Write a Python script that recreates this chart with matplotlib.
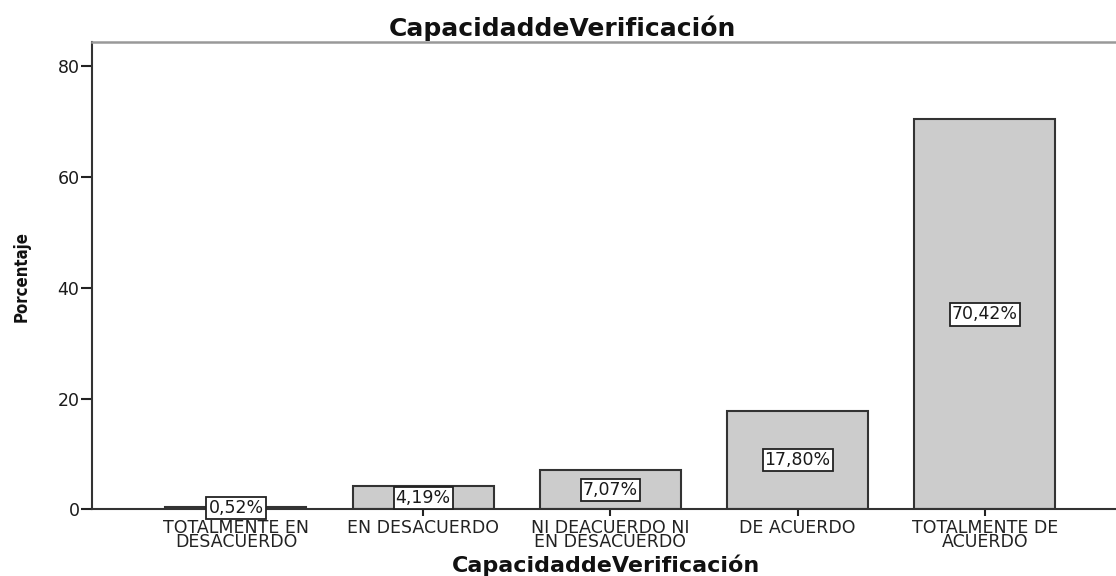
import numpy as np
import matplotlib.pyplot as plt

categorias = ['TOTALMENTE EN\nDESACUERDO', 'EN DESACUERDO', 'NI DEACUERDO NI\nEN DESACUERDO',
              'DE ACUERDO', 'TOTALMENTE DE\nACUERDO']
porcentajes = [0.52, 4.19, 7.07, 17.80, 70.42]
etiquetas = ['0,52%', '4,19%', '7,07%', '17,80%', '70,42%']
y_ticks = [0, 20, 40, 60, 80]

plt.rcParams['font.family'] = ['DejaVu Sans']

fig = plt.figure(figsize=(11.16, 5.76), dpi=100)
ax = fig.add_axes([0.0824, 0.1155, 1 - 0.0824, 0.927 - 0.1155])

x = np.arange(len(categorias))
ax.bar(x, porcentajes, width=0.753, color='#cccccc', edgecolor='#333333', linewidth=1.5, zorder=2)

# etiquetas de valor en cajas blancas, a media altura de la barra
for xi, v, t in zip(x, porcentajes, etiquetas):
    ax.text(xi, v / 2, t, ha='center', va='center', fontsize=12.5, color='#1a1a1a', zorder=4,
            bbox=dict(boxstyle='square,pad=0.12', facecolor='white', edgecolor='#222222', linewidth=1.3))

ax.set_xlim(-0.769, 4.70)
ax.set_ylim(0, 84.4)
ax.set_yticks(y_ticks)
ax.set_xticks(x)
ax.set_xticklabels(categorias, fontsize=12.5, linespacing=0.72, color='#1a1a1a')
ax.tick_params(axis='y', length=8, width=1.5, pad=1, labelsize=12.5, colors='#222222')
ax.tick_params(axis='x', length=5, width=1.5, pad=2, colors='#222222')
for lbl in ax.get_yticklabels():
    lbl.set_color('#1a1a1a')

ax.spines['right'].set_visible(False)
ax.spines['top'].set_color('#999999')
ax.spines['top'].set_linewidth(1.8)
ax.spines['left'].set_color('#333333')
ax.spines['left'].set_linewidth(1.5)
ax.spines['bottom'].set_color('#333333')
ax.spines['bottom'].set_linewidth(1.5)

fig.text(562 / 1116, 1 - 28 / 576, 'CapacidaddeVerificación', ha='center', va='center',
         fontsize=18, fontweight='bold', color='#111111')
fig.text(606 / 1116, 1 - 565 / 576, 'CapacidaddeVerificación', ha='center', va='center',
         fontsize=16, fontweight='bold', color='#111111')
fig.text(22 / 1116, 1 - 277 / 576, 'Porcentaje', ha='center', va='center', rotation=90,
         fontsize=12, fontweight='bold', color='#111111',
         family=['Liberation Sans Narrow', 'DejaVu Sans'], fontstretch='condensed')

fig.savefig('out.png', dpi=100)
